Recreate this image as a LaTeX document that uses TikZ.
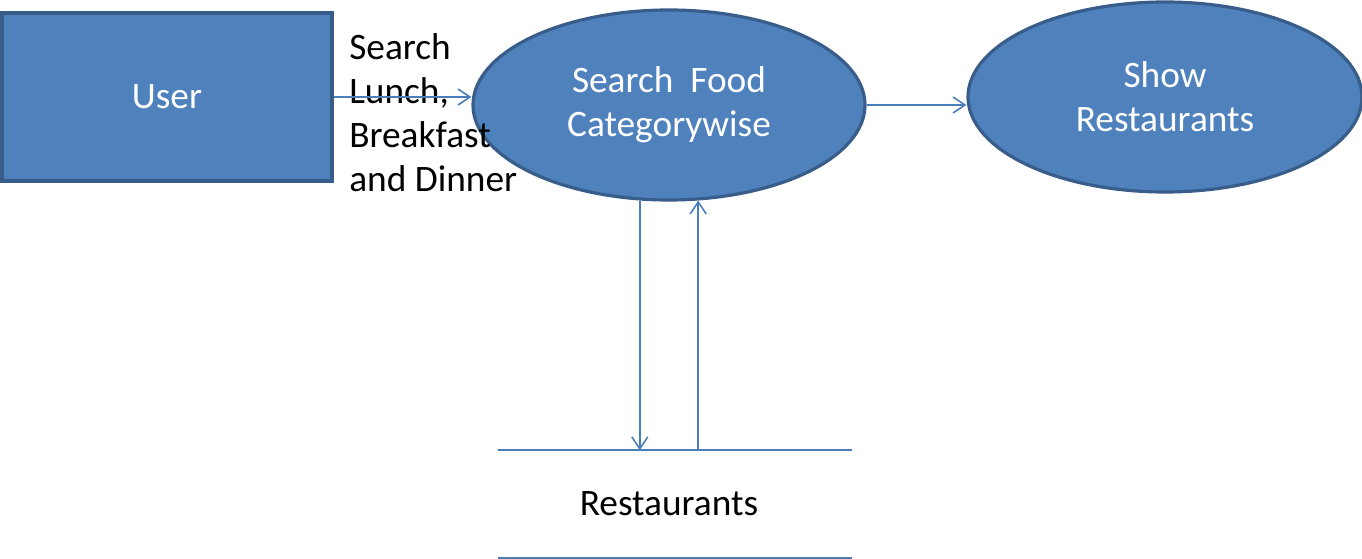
\documentclass[tikz,border=0pt]{standalone}
\usepackage{fontspec}
\setmainfont{Carlito}
\usepackage{tikz}
\usetikzlibrary{shapes.geometric, arrows.meta, calc}
\definecolor{boxfill}{HTML}{4F81BD}
\definecolor{boxline}{HTML}{385D8A}
\definecolor{flowline}{HTML}{4A7EBB}

\begin{document}
\begin{tikzpicture}[x = 0.75pt, y = -0.75pt,
    every node/.style = {font = \fontsize{28}{33}\selectfont},
    proc/.style = {ellipse, draw = boxline, fill = boxfill, line width = 2.4pt, text = white, align = center, inner sep = 0pt, minimum width = 392*0.75pt, minimum height = 190*0.75pt},
    flow/.style = {draw = flowline, line width = 1.2pt, -{Straight Barb[length = 9pt, width = 12pt]}}]
    \useasboundingbox (0,0) rectangle (1362,559);
    \pgfmathsetmacro{\sx}{669}
    \pgfmathsetmacro{\sy}{105}
    \node[draw = boxline, fill = boxfill, line width = 2.4pt, text = white, minimum width = 330*0.75pt, minimum height = 168*0.75pt, inner sep = 0pt] (user) at (167,97) {User};
    \node[proc] (search) at (\sx,\sy) {Search~~Food\\Categorywise};
    \node[proc, minimum width = 394*0.75pt] (show) at (1165,97) {Show\\Restaurants};
    \node[minimum width = 354*0.75pt, minimum height = 107*0.75pt, inner sep = 0pt] (store) at (675,504) {Restaurants\hspace*{9pt}};
    \draw[flowline, line width = 1.2pt] (store.north west) -- (store.north east);
    \draw[flowline, line width = 1.2pt] (store.south west) -- (store.south east);
    \node[anchor = north west, align = left, inner sep = 0pt] (query) at (349,33) {Search\\Lunch,\\Breakfast\\and Dinner};
    % data flows
    \draw[flow] (user.east) -- (user.east -| search.west);
    \draw[flow] (search.east) -- (search.east -| show.west);
    \draw[flow] (search.-107) -- (search.-107 |- store.north);
    \draw[flow] (search.-73 |- store.north) -- (search.-73);
\end{tikzpicture}
\end{document}
